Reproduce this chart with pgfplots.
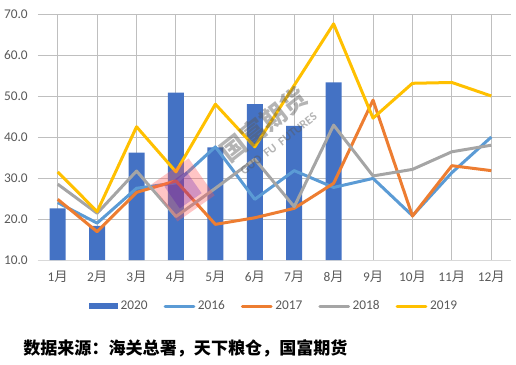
\documentclass[border=0pt]{standalone}
\usepackage{fontspec}
\setmainfont{Carlito}
\newfontfamily\cjk{Noto Sans CJK SC}
\usepackage{pgfplots}
\pgfplotsset{compat=1.18}
\definecolor{c2020}{HTML}{4472C4}
\definecolor{c2016}{HTML}{5B9BD5}
\definecolor{c2017}{HTML}{ED7D31}
\definecolor{c2018}{HTML}{A5A5A5}
\definecolor{c2019}{HTML}{FFC000}
\definecolor{txt}{HTML}{595959}
\definecolor{grid}{HTML}{D9D9D9}
\begin{document}
\begin{tikzpicture}
\useasboundingbox (-28.5pt,-78pt) rectangle (358.5pt,195pt);
\begin{axis}[
  at={(0,0)}, anchor=south west,
  scale only axis, width=354.75pt, height=184.5pt,
  xmin=0.5, xmax=12.5, ymin=10, ymax=70,
  xtick={1,...,12},
  xticklabels={1{\cjk 月},2{\cjk 月},3{\cjk 月},4{\cjk 月},5{\cjk 月},6{\cjk 月},7{\cjk 月},8{\cjk 月},9{\cjk 月},10{\cjk 月},11{\cjk 月},12{\cjk 月}},
  ytick={10,20,...,70},
  /pgf/number format/fixed, /pgf/number format/fixed zerofill, /pgf/number format/precision=1, /pgf/number format/assume math mode=true,
  y tick label style={anchor=east, inner sep=0pt, xshift=-7.5pt},
  x tick label style={anchor=center, inner sep=0pt, yshift=-12.75pt},
  tick label style={font=\fontsize{10}{12}\selectfont, text=txt},
  major tick length=0pt,
  ymajorgrids, grid style={grid, line width=0.75pt},
  axis line style={draw=none},
  axis x line*=bottom, axis y line*=left,
  clip=false,
  legend columns=5,
  legend style={at={(0.5,-0.187)}, anchor=center, draw=none, fill=none,
    font=\fontsize{10}{12}\selectfont, text=txt,
    /tikz/every even column/.append style={column sep=10pt},
    inner sep=0pt},
  legend cell align=left,
]
\draw[grid, line width=0.75pt] (axis cs:0.5,10) -- (axis cs:12.5,10);

\addplot[ybar, bar width=12pt, fill=c2020, draw=none,
  legend image code/.code={\fill[c2020] (0pt,-2.6pt) rectangle (21.5pt,2.6pt);}]
  coordinates {(1,22.6) (2,18.3) (3,36.2) (4,50.8) (5,37.5) (6,48.0) (7,42.7) (8,53.3)};
\addlegendentry{2020}
\addplot[c2016, line width=2.25pt, line join=round, legend image code/.code={\draw[c2016, line width=2.25pt, line cap=round] (0pt,0pt) -- (21.5pt,0pt);}]
  coordinates {(1,24.0) (2,19.0) (3,27.5) (4,28.8) (5,37.6) (6,24.8) (7,31.8) (8,27.7) (9,29.9) (10,20.8) (11,31.3) (12,40.0)};
\addlegendentry{2016}
\addplot[c2017, line width=2.25pt, line join=round, legend image code/.code={\draw[c2017, line width=2.25pt, line cap=round] (0pt,0pt) -- (21.5pt,0pt);}]
  coordinates {(1,24.8) (2,16.9) (3,26.5) (4,29.3) (5,18.7) (6,20.3) (7,22.6) (8,28.7) (9,49.0) (10,20.7) (11,33.0) (12,31.8)};
\addlegendentry{2017}
\addplot[c2018, line width=2.25pt, line join=round, legend image code/.code={\draw[c2018, line width=2.25pt, line cap=round] (0pt,0pt) -- (21.5pt,0pt);}]
  coordinates {(1,28.5) (2,21.4) (3,31.7) (4,20.6) (5,27.5) (6,34.6) (7,23.0) (8,42.9) (9,30.5) (10,32.1) (11,36.4) (12,38.0)};
\addlegendentry{2018}
\addplot[c2019, line width=2.25pt, line join=round, legend image code/.code={\draw[c2019, line width=2.25pt, line cap=round] (0pt,0pt) -- (21.5pt,0pt);}]
  coordinates {(1,31.5) (2,21.8) (3,42.5) (4,31.5) (5,48.0) (6,37.6) (7,52.6) (8,67.6) (9,44.6) (10,53.1) (11,53.3) (12,50.0)};
\addlegendentry{2019}

% watermark (on top, semi-transparent)
\fill[rotate around={35:(axis cs:4.18,27.1)}, red!65, opacity=0.35] ([xshift=-17pt,yshift=-17pt]axis cs:4.18,27.1) rectangle ([xshift=17pt,yshift=17pt]axis cs:4.18,27.1);
\fill[rotate around={35:(axis cs:4.18,27.1)}, violet!60!blue, opacity=0.25] ([xshift=-10pt,yshift=-10pt]axis cs:4.18,27.1) rectangle ([xshift=10pt,yshift=10pt]axis cs:4.18,27.1);
\node[rotate=38, opacity=0.45, text=gray!70!black, align=center, inner sep=0pt,
  font=\bfseries\fontsize{9}{12}\selectfont] at (axis cs:6.35,41.5)
  {{\cjk\bfseries\fontsize{19}{22}\selectfont 国富期货}\\[2pt]GUO\ \ FU\ \ FUTURES};
\end{axis}
\node[anchor=west, inner sep=0pt, font=\cjk\bfseries\fontsize{12.8}{14}\selectfont] at (-11.25pt,-66pt) {数据来源：海关总署，天下粮仓，国富期货};
\end{tikzpicture}
\end{document}
